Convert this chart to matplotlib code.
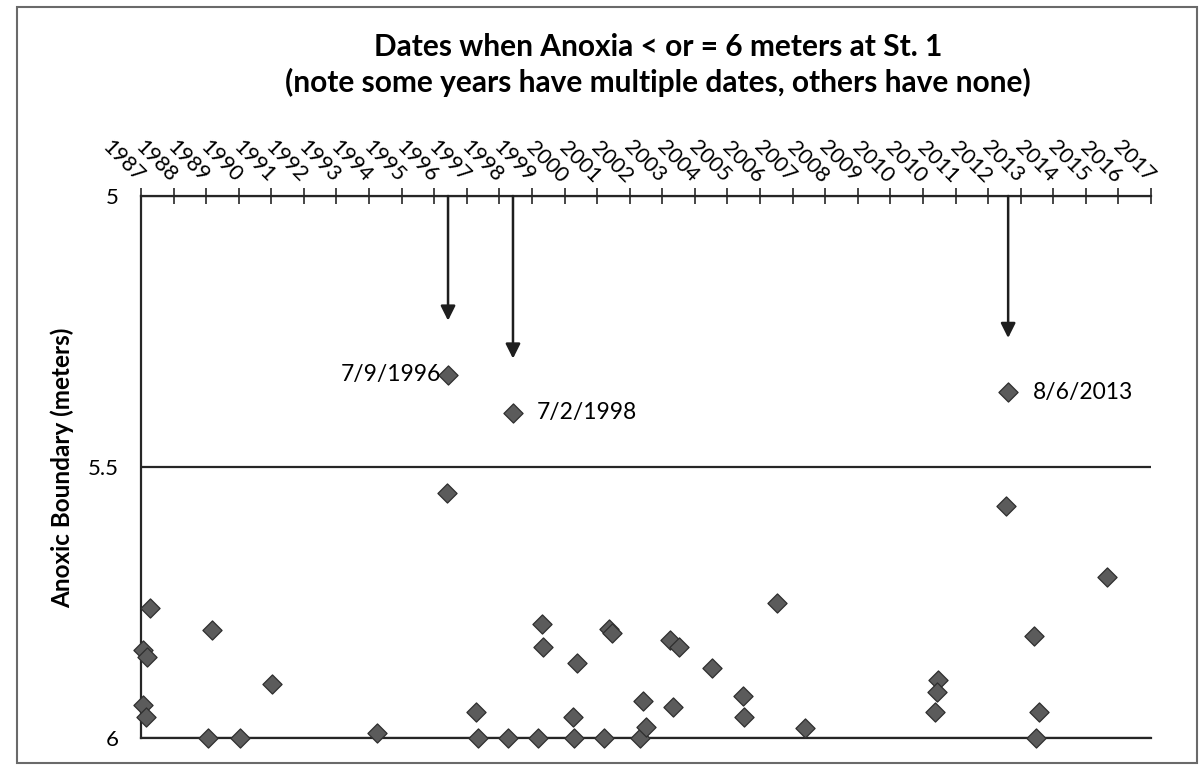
import numpy as np
import matplotlib
matplotlib.use("Agg")
import matplotlib.pyplot as plt
from matplotlib.patches import Rectangle

plt.rcParams['font.family'] = ['Lato', 'DejaVu Sans']

# sampling dates (decimal year) and anoxic boundary depth (m)
years = [1987.44, 1987.22, 1987.34, 1987.22, 1987.31, 1989.20, 1990.18, 1989.32,
         1991.15, 1994.36, 1996.52, 1996.49, 1997.37, 1997.43, 1998.35, 1998.50,
         1999.26, 1999.39, 1999.42, 2000.36, 2000.45, 2000.33, 2001.28, 2001.43,
         2001.52, 2002.37, 2002.46, 2002.56, 2003.29, 2003.56, 2003.38, 2004.57,
         2005.51, 2005.54, 2006.55, 2007.40, 2011.46, 2011.43, 2011.37, 2013.595,
         2013.53, 2014.39, 2014.54, 2014.45, 2016.61]
depth = [5.760, 5.838, 5.851, 5.939, 5.961, 6.0, 6.0, 5.801,
         5.900, 5.991, 5.330, 5.548, 5.952, 6.0, 6.0, 5.400,
         6.0, 5.790, 5.832, 6.0, 5.862, 5.961, 6.0, 5.799,
         5.806, 6.0, 5.932, 5.980, 5.819, 5.832, 5.943, 5.871,
         5.923, 5.961, 5.751, 5.982, 5.893, 5.915, 5.952, 5.362,
         5.572, 5.812, 5.952, 6.0, 5.703]

# highlighted events (shallowest boundaries)
event_labels = ["7/9/1996", "7/2/1998", "8/6/2013"]
event_years = [1996.52, 1998.50, 2013.595]
event_depth = [5.330, 5.400, 5.362]

tick_labels = ["1987", "1988", "1989", "1990", "1991", "1992", "1993", "1994",
               "1995", "1996", "1997", "1998", "1999", "2000", "2001", "2002",
               "2003", "2004", "2005", "2006", "2007", "2008", "2009", "2010",
               "2010", "2011", "2012", "2013", "2014", "2015", "2016", "2017"]
x_start, x_end = 1987.16, 2017.95

W, H = 1204, 765
fig = plt.figure(figsize=(W / 100, H / 100), dpi=100)
ax = fig.add_axes([141 / W, (H - 738) / H, (1151 - 141) / W, (738 - 196) / H])

ax.scatter(years, depth, marker='D', s=95, c='#5b5b5b', edgecolors='#2e2e2e',
           linewidths=0.9, zorder=3, clip_on=False)

ax.set_xlim(x_start, x_end)
ax.set_ylim(6.0, 5.0)
ax.set_yticks([5, 5.5, 6])
ax.set_yticklabels(["5", "5.5", "6"], fontsize=16)
ax.tick_params(axis='y', length=0, pad=16)
ax.yaxis.grid(True, color='#262626', lw=1.6)
ax.set_axisbelow(True)

ax.xaxis.tick_top()
ax.set_xticks(np.linspace(x_start, x_end, len(tick_labels)))
ax.set_xticklabels(tick_labels, rotation=-45, ha='right', va='center',
                   rotation_mode='anchor', fontsize=15.5)
ax.tick_params(axis='x', direction='inout', length=12, width=1.2, pad=6,
               colors='#262626', labelcolor='black')

for side in ['right']:
    ax.spines[side].set_visible(False)
for side in ['top', 'left', 'bottom']:
    ax.spines[side].set_color('#262626')
    ax.spines[side].set_linewidth(1.6)

# arrows pointing at the three shallow events
for lab, xv, yv in zip(event_labels, event_years, event_depth):
    ax.annotate("", xy=(xv, yv - 0.1), xytext=(xv, 5.0),
                arrowprops=dict(arrowstyle='-|>', lw=1.8, color='#1e1e1e',
                                mutation_scale=22, shrinkA=0, shrinkB=0))
ax.annotate(event_labels[0], xy=(event_years[0], event_depth[0]), xytext=(-5, 0),
            textcoords='offset points', ha='right', va='center', fontsize=16.5)
ax.annotate(event_labels[1], xy=(event_years[1], event_depth[1]), xytext=(17, 0),
            textcoords='offset points', ha='left', va='center', fontsize=16.5)
ax.annotate(event_labels[2], xy=(event_years[2], event_depth[2]), xytext=(18, 0),
            textcoords='offset points', ha='left', va='center', fontsize=16.5)

fig.text(658 / W, 1 - 47 / H, "Dates when Anoxia < or = 6 meters at St. 1",
         ha='center', va='center', fontsize=21.5, fontweight='bold')
fig.text(658 / W, 1 - 82 / H, "(note some years have multiple dates, others have none)",
         ha='center', va='center', fontsize=21.5, fontweight='bold')
fig.text(62 / W, 1 - 468 / H, "Anoxic Boundary (meters)", rotation=90,
         ha='center', va='center', fontsize=17.5, fontweight='bold')

fig.patches.append(Rectangle((17 / W, 2 / H), (1197 - 17) / W, (758 - 2) / H,
                             transform=fig.transFigure, fill=False,
                             edgecolor='#6a6a6a', lw=1.5))

fig.savefig("out.png", dpi=100)
